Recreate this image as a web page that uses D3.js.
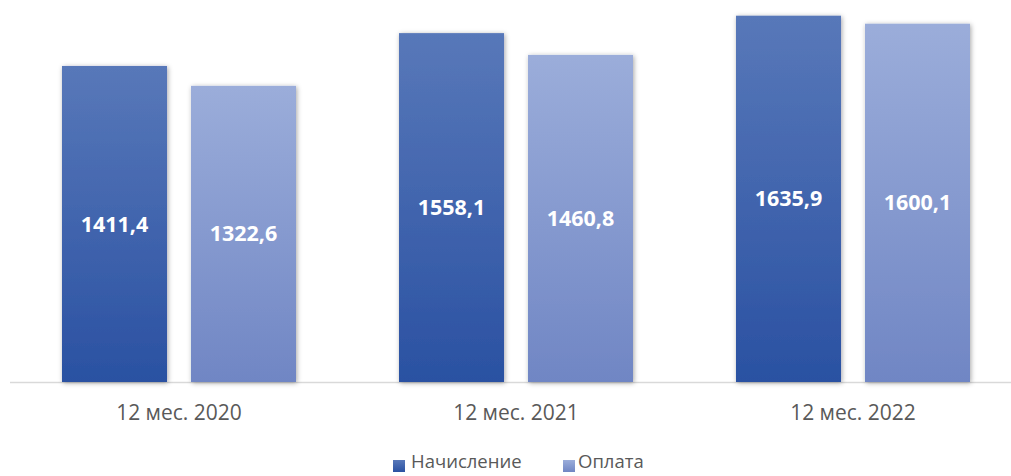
<!DOCTYPE html>
<html>
<head>
<meta charset="utf-8">
<script src="https://cdn.jsdelivr.net/npm/d3@7"></script>
<style>
  body { margin: 0; background: #fff; }
  svg { display: block; font-family: "Open Sans", sans-serif; }
</style>
</head>
<body>
<svg id="chart"></svg>
<script>
const categories = ["12 мес. 2020", "12 мес. 2021", "12 мес. 2022"];
const series = ["Начисление", "Оплата"];
const accrued = [1411.4, 1558.1, 1635.9];
const paid = [1322.6, 1460.8, 1600.1];

const width = 1011, height = 476;
const svg = d3.select("#chart").attr("width", width).attr("height", height);

const defs = svg.append("defs");
const grads = [
  {id: "g0", top: "#5878b9", bottom: "#2a51a2"},
  {id: "g1", top: "#9badda", bottom: "#7086c4"}
];
grads.forEach(g => {
  const lg = defs.append("linearGradient").attr("id", g.id)
    .attr("x1", 0).attr("y1", 0).attr("x2", 0).attr("y2", 1);
  lg.append("stop").attr("offset", "0%").attr("stop-color", g.top);
  lg.append("stop").attr("offset", "100%").attr("stop-color", g.bottom);
});
const shadow = defs.append("filter").attr("id", "shadow")
  .attr("x", "-20%").attr("y", "-20%").attr("width", "140%").attr("height", "140%");
shadow.append("feDropShadow").attr("dx", 1).attr("dy", 1)
  .attr("stdDeviation", 2.5).attr("flood-color", "#000").attr("flood-opacity", 0.35);

const baseY = 382;
const x0 = d3.scaleBand().domain(categories).range([10.5, 1021.5]).padding(0);
const x1 = d3.scaleBand().domain(series).range([51.5, 285.5]).paddingInner(0.186).paddingOuter(0);
const y = d3.scaleLinear().domain([0, 1706]).range([baseY, 0]);

const data = categories.map((c, i) => ({cat: c, values: [accrued[i], paid[i]]}));

// baseline
svg.append("line")
  .attr("x1", 10).attr("x2", width).attr("y1", baseY + 0.5).attr("y2", baseY + 0.5)
  .attr("stroke", "#d9d9d9").attr("stroke-width", 1.5);

const groups = svg.selectAll(".grp").data(data).join("g")
  .attr("class", "grp")
  .attr("transform", d => `translate(${x0(d.cat)},0)`);

groups.selectAll("rect").data(d => d.values.map((v, j) => ({s: series[j], v, j})))
  .join("rect")
  .attr("x", d => x1(d.s))
  .attr("width", x1.bandwidth())
  .attr("y", d => y(d.v))
  .attr("height", d => baseY - y(d.v))
  .attr("fill", d => `url(#g${d.j})`)
  .attr("filter", "url(#shadow)");

groups.selectAll("text.val").data(d => d.values.map((v, j) => ({s: series[j], v})))
  .join("text")
  .attr("class", "val")
  .attr("x", d => x1(d.s) + x1.bandwidth() / 2)
  .attr("y", d => (y(d.v) + baseY) / 2)
  .attr("dy", "0.35em")
  .attr("text-anchor", "middle")
  .attr("fill", "#fff")
  .attr("font-weight", "bold")
  .attr("font-size", 21.5)
  .text(d => d3.format(".1f")(d.v).replace(".", ","));

// category axis
const xAxis = d3.axisBottom(x0).tickSize(0).tickPadding(0);
svg.append("g")
  .attr("transform", `translate(0,${baseY})`)
  .call(xAxis)
  .call(g => g.select(".domain").remove())
  .call(g => g.selectAll("text")
    .attr("y", 31)
    .attr("dy", "0.35em")
    .attr("fill", "#595959")
    .attr("font-size", 21)
    .attr("font-family", "Open Sans, sans-serif"));

// legend
const legendItems = [
  {name: series[0], sx: 393, tx: 411},
  {name: series[1], sx: 563, tx: 578}
];
const lg = svg.append("g");
legendItems.forEach((it, i) => {
  lg.append("rect").attr("x", it.sx).attr("y", 460).attr("width", 12).attr("height", 12)
    .attr("fill", `url(#g${i})`);
  lg.append("text").attr("x", it.tx).attr("y", 462).attr("dy", "0.35em")
    .attr("fill", "#595959").attr("font-size", 18.5).text(it.name);
});
</script>
</body>
</html>
